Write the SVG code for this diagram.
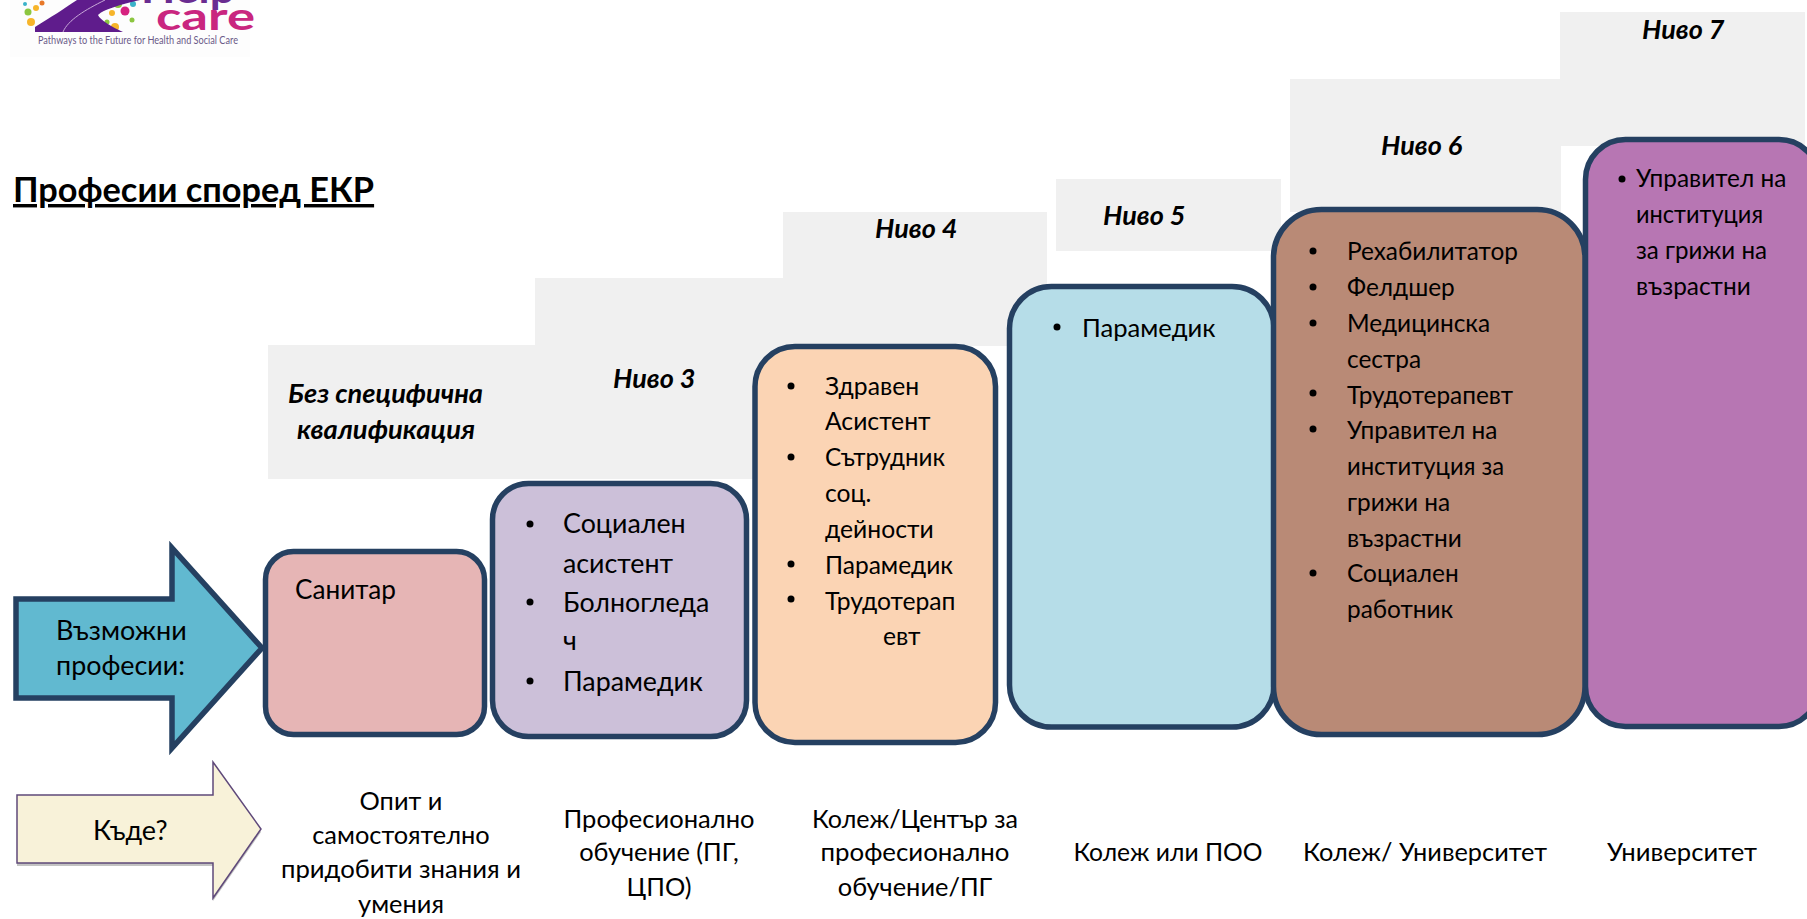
<svg xmlns="http://www.w3.org/2000/svg" width="1807" height="919" viewBox="0 0 1807 919">
<defs><filter id="soft" x="-5%" y="-5%" width="110%" height="110%"><feGaussianBlur stdDeviation="0.5"/></filter></defs>
<style>
text{font-family:Lato,Carlito,"Noto Sans",sans-serif;fill:#000}
.box{stroke:#254061;stroke-width:5.5}
.band{fill:#f0f0f0}
.lv{font-weight:700;font-style:italic;font-size:27px}
.b{font-size:24.4px}
.p{font-size:25.6px}
.a{font-size:27px}
.s{font-size:24.7px}
.l{font-size:26.8px}
.c{font-size:25.4px;text-anchor:middle}
</style>
<rect width="1807" height="919" fill="#fff"/>
<g id="logo">
<rect x="10" y="0" width="240" height="57" fill="#fdfdfd"/>
<g filter="url(#soft)">
<g fill="#f7b52c"><circle cx="31" cy="22" r="4"/><circle cx="115" cy="27" r="4"/><circle cx="112" cy="13" r="3"/><circle cx="36" cy="8" r="3"/></g>
<g fill="#8cc63f"><circle cx="28" cy="12" r="3.5"/><circle cx="118" cy="4" r="4"/><circle cx="107" cy="22" r="2.5"/><circle cx="132" cy="20" r="2.5"/></g>
<g fill="#e8792b"><circle cx="103" cy="7" r="3.5"/><circle cx="42" cy="3" r="2.5"/></g>
<g fill="#d6247f"><circle cx="125" cy="11" r="4.5"/></g>
<g fill="#3bb2c9"><circle cx="133" cy="4" r="3"/><circle cx="25" cy="4" r="2"/></g>
<path d="M35 32L35 27C50 18 65 8 77 0L140 0C120 5 104 9 98 15C100 20 112 27 123 32Z" fill="#5e1f8c"/>
<path d="M63 32C68 20 85 10 105 0" fill="none" stroke="#c9a6d8" stroke-width="1"/>
</g>
<text x="141" y="3" font-size="40" font-weight="700" textLength="94" lengthAdjust="spacingAndGlyphs" style="fill:#6a2c91">Help</text>
<text x="156" y="30" font-size="39" font-weight="700" textLength="99" lengthAdjust="spacingAndGlyphs" style="fill:#c9267f">care</text>
<text x="38" y="44" font-size="11" textLength="200" lengthAdjust="spacingAndGlyphs" style="fill:#6b5a88">Pathways to the Future for Health and Social Care</text>
</g>
<g id="title">
<text x="13" y="202" font-size="34.3" font-weight="700" text-decoration="underline">Професии според ЕКР</text>
</g>
<g id="level-bands">
<rect class="band" x="268" y="345" width="280" height="134"/>
<rect class="band" x="535" y="278" width="260" height="201"/>
<rect class="band" x="783" y="212" width="264" height="134"/>
<rect class="band" x="1056" y="179" width="225" height="72"/>
<rect class="band" x="1290" y="79" width="271" height="133"/>
<rect class="band" x="1560" y="12" width="245" height="134"/>
</g>
<g id="level-0"><text class="lv" x="288" y="403" textLength="195" lengthAdjust="spacingAndGlyphs">Без специфична</text><text class="lv" x="297" y="439" textLength="178" lengthAdjust="spacingAndGlyphs">квалификация</text></g>
<g id="level-3"><text class="lv" x="613" y="388">Ниво 3</text></g>
<g id="level-4"><text class="lv" x="875" y="238">Ниво 4</text></g>
<g id="level-5"><text class="lv" x="1103" y="225">Ниво 5</text></g>
<g id="level-6"><text class="lv" x="1381" y="155">Ниво 6</text></g>
<g id="level-7"><text class="lv" x="1642" y="39">Ниво 7</text></g>
<g id="arrow-professions">
<path class="box" d="M16 599H172V548L262 648L172 748V698H16Z" fill="#61b9d0"/>
<text class="a" x="56" y="640">Възможни</text><text class="a" x="56" y="675" textLength="129" lengthAdjust="spacingAndGlyphs">професии:</text>
</g>
<g id="arrow-where">
<path d="M17 866H213V901L261 832L213 765V798H17Z" fill="#888" opacity=".5"/>
<path d="M17 795H213V762L261 829L213 898V863H17Z" fill="#f8f2d9" stroke="#5f497a" stroke-width="1.5"/>
<text class="a" x="93" y="840">Къде?</text>
</g>
<g id="box-magenta">
<rect class="box" x="1585.5" y="139.5" width="233.5" height="587" rx="40" fill="#b776b3"/>
<circle cx="1622" cy="179" r="3.5"/>
<text class="b" x="1636" y="187">Управител на</text><text class="b" x="1636" y="223" textLength="127" lengthAdjust="spacingAndGlyphs">институция</text><text class="b" x="1636" y="259" textLength="131" lengthAdjust="spacingAndGlyphs">за грижи на</text><text class="b" x="1636" y="295">възрастни</text>
</g>
<g id="box-blue">
<rect class="box" x="1009.5" y="286.5" width="264.5" height="440.5" rx="42" fill="#b6dde8"/>
<circle cx="1057" cy="327" r="3.5"/>
<text class="p" x="1082" y="337">Парамедик</text>
</g>
<g id="box-brown">
<rect class="box" x="1273.5" y="209.5" width="311.5" height="525" rx="48" fill="#b98a76"/>
<circle cx="1313" cy="251" r="3.5"/><circle cx="1313" cy="287" r="3.5"/><circle cx="1313" cy="323" r="3.5"/><circle cx="1313" cy="393" r="3.5"/><circle cx="1313" cy="429" r="3.5"/><circle cx="1313" cy="573" r="3.5"/>
<text class="b" x="1347" y="260">Рехабилитатор</text><text class="b" x="1347" y="296">Фелдшер</text><text class="b" x="1347" y="332">Медицинска</text><text class="b" x="1347" y="368">сестра</text><text class="b" x="1347" y="404">Трудотерапевт</text><text class="b" x="1347" y="439">Управител на</text><text class="b" x="1347" y="475" textLength="157" lengthAdjust="spacingAndGlyphs">институция за</text><text class="b" x="1347" y="511">грижи на</text><text class="b" x="1347" y="547">възрастни</text><text class="b" x="1347" y="582">Социален</text><text class="b" x="1347" y="618">работник</text>
</g>
<g id="box-orange">
<rect class="box" x="755" y="346.5" width="240.5" height="396" rx="40" fill="#fbd4b4"/>
<circle cx="791" cy="386" r="3.5"/><circle cx="791" cy="457" r="3.5"/><circle cx="791" cy="564" r="3.5"/><circle cx="791" cy="599" r="3.5"/>
<text class="s" x="825" y="395">Здравен</text><text class="s" x="825" y="430">Асистент</text><text class="s" x="825" y="466" textLength="120" lengthAdjust="spacingAndGlyphs">Сътрудник</text><text class="s" x="825" y="502">соц.</text><text class="s" x="825" y="538">дейности</text><text class="s" x="825" y="574" textLength="128" lengthAdjust="spacingAndGlyphs">Парамедик</text><text class="s" x="825" y="610">Трудотерап</text><text class="s" x="883" y="645">евт</text>
</g>
<g id="box-purple">
<rect class="box" x="492.5" y="483.5" width="254" height="253" rx="36" fill="#ccc0d9"/>
<circle cx="530" cy="524" r="3.5"/><circle cx="530" cy="602" r="3.5"/><circle cx="530" cy="681" r="3.5"/>
<text class="l" x="563" y="533">Социален</text><text class="l" x="563" y="573">асистент</text><text class="l" x="563" y="612">Болногледа</text><text class="l" x="563" y="650">ч</text><text class="l" x="563" y="691">Парамедик</text>
</g>
<g id="box-pink">
<rect class="box" x="265.5" y="551.5" width="219" height="183" rx="28" fill="#e6b5b5"/>
<text class="l" x="295" y="599" textLength="101" lengthAdjust="spacingAndGlyphs">Санитар</text>
</g>
<g id="where-labels">
<text class="c" x="401" y="810">Опит и</text><text class="c" x="401" y="844">самостоятелно</text><text class="c" x="401" y="878" textLength="240" lengthAdjust="spacingAndGlyphs">придобити знания и</text><text class="c" x="401" y="913">умения</text>
<text class="c" x="659" y="828" textLength="191" lengthAdjust="spacingAndGlyphs">Професионално</text><text class="c" x="659" y="861">обучение (ПГ,</text><text class="c" x="659" y="896">ЦПО)</text>
<text class="c" x="915" y="828" textLength="206" lengthAdjust="spacingAndGlyphs">Колеж/Център за</text><text class="c" x="915" y="861" textLength="189" lengthAdjust="spacingAndGlyphs">професионално</text><text class="c" x="915" y="896">обучение/ПГ</text>
<text class="c" x="1168" y="861" textLength="189" lengthAdjust="spacingAndGlyphs">Колеж или ПОО</text>
<text class="c" x="1425" y="861" textLength="244" lengthAdjust="spacingAndGlyphs">Колеж/ Университет</text>
<text class="c" x="1682" y="861" textLength="150" lengthAdjust="spacingAndGlyphs">Университет</text>
</g>
</svg>
